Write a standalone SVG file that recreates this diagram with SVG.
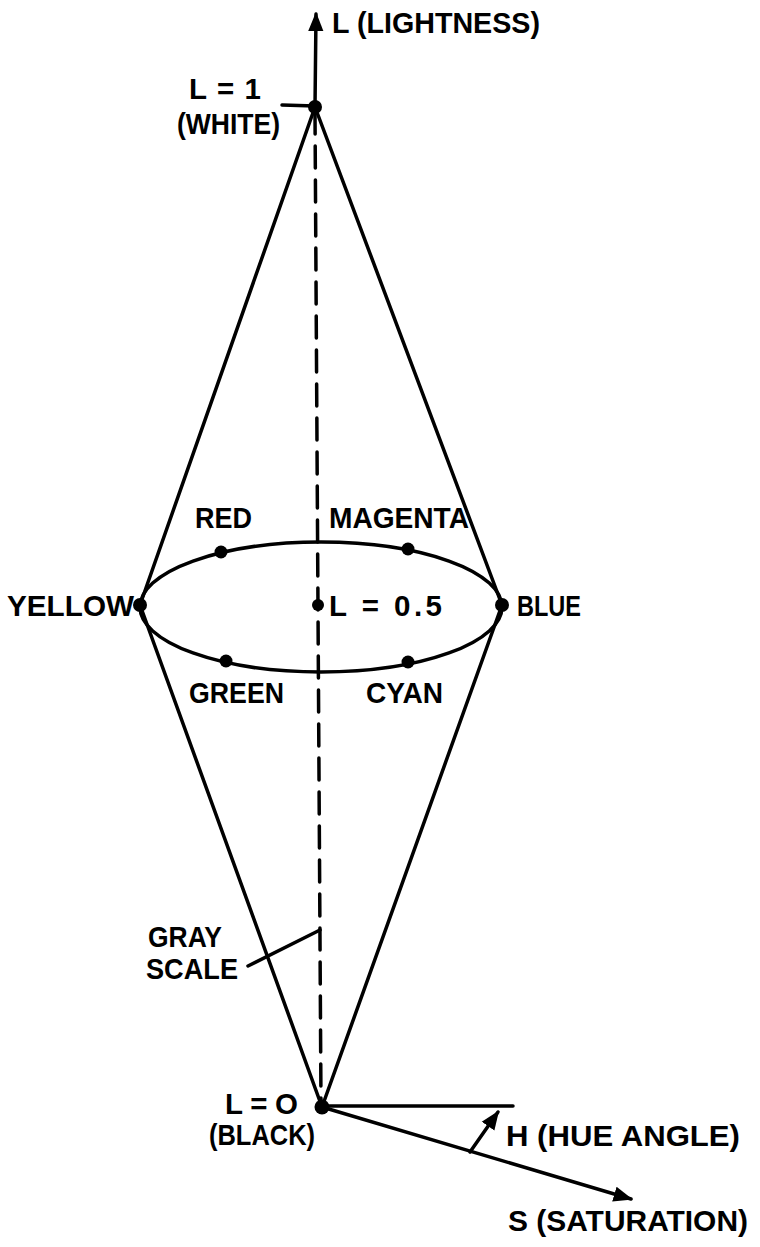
<svg xmlns="http://www.w3.org/2000/svg" width="760" height="1247" viewBox="0 0 760 1247">
<style>
text{font-family:"Liberation Sans",Arial,sans-serif;font-weight:bold;font-size:29.5px;fill:#000}
.ln{stroke:#000;stroke-width:3.5;fill:none;stroke-linecap:round}
.dot{fill:#000}
</style>
<defs>
<marker id="ah" viewBox="0 0 10 10" refX="9" refY="5" markerWidth="5.5" markerHeight="5.5" markerUnits="strokeWidth" orient="auto">
<path d="M0,1 L10,5 L0,9 Z" fill="#000"/>
</marker>
</defs>
<rect width="760" height="1247" fill="#fff"/>
<g id="connectors">
<line class="ln" x1="315" y1="107" x2="316" y2="14" marker-end="url(#ah)"/>
<line class="ln" x1="282" y1="105" x2="315" y2="106"/>
<line class="ln" x1="315" y1="107" x2="140" y2="605"/>
<line class="ln" x1="315" y1="107" x2="502" y2="605"/>
<line class="ln" x1="140" y1="605" x2="322" y2="1107"/>
<line class="ln" x1="502" y1="605" x2="322" y2="1107"/>
<line class="ln" x1="315" y1="112" x2="321" y2="1105" stroke-dasharray="22 12" stroke-linecap="butt"/>
<ellipse class="ln" cx="321" cy="607" rx="181" ry="65"/>
<line class="ln" x1="320" y1="930" x2="248" y2="966"/>
<line class="ln" x1="322" y1="1106" x2="513" y2="1106"/>
<line class="ln" x1="322" y1="1107" x2="631" y2="1199" marker-end="url(#ah)"/>
<line class="ln" x1="470" y1="1152" x2="498" y2="1112" marker-end="url(#ah)"/>
</g>
<g id="node-white"><circle class="dot" cx="315" cy="107" r="7"/><text x="189" y="99" textLength="72" lengthAdjust="spacing">L = 1</text><text x="177" y="134" textLength="103" lengthAdjust="spacingAndGlyphs">(WHITE)</text></g>
<g id="axis-l"><text x="332" y="33" textLength="208" lengthAdjust="spacingAndGlyphs">L (LIGHTNESS)</text></g>
<g id="node-yellow"><circle class="dot" cx="140" cy="605" r="7"/><text x="7" y="616" textLength="127" lengthAdjust="spacingAndGlyphs">YELLOW</text></g>
<g id="node-blue"><circle class="dot" cx="502" cy="605" r="7"/><text x="517" y="616" textLength="64" lengthAdjust="spacingAndGlyphs">BLUE</text></g>
<g id="node-center"><circle class="dot" cx="318" cy="605" r="6"/><text x="329" y="616" textLength="113" lengthAdjust="spacing">L = 0.5</text></g>
<g id="node-red"><circle class="dot" cx="221" cy="552" r="6.5"/><text x="195" y="528" textLength="57" lengthAdjust="spacingAndGlyphs">RED</text></g>
<g id="node-magenta"><circle class="dot" cx="408" cy="549" r="6.5"/><text x="329" y="528" textLength="140" lengthAdjust="spacingAndGlyphs">MAGENTA</text></g>
<g id="node-green"><circle class="dot" cx="226" cy="661" r="6.5"/><text x="189" y="703" textLength="95" lengthAdjust="spacingAndGlyphs">GREEN</text></g>
<g id="node-cyan"><circle class="dot" cx="408" cy="662" r="6.5"/><text x="366" y="703" textLength="77" lengthAdjust="spacingAndGlyphs">CYAN</text></g>
<g id="label-gray"><text x="148" y="947" textLength="74" lengthAdjust="spacingAndGlyphs">GRAY</text><text x="146" y="979" textLength="92" lengthAdjust="spacingAndGlyphs">SCALE</text></g>
<g id="node-black"><circle class="dot" cx="322" cy="1107" r="7.5"/><text x="225" y="1114" textLength="73" lengthAdjust="spacing">L = O</text><text x="209" y="1145" textLength="106" lengthAdjust="spacingAndGlyphs">(BLACK)</text></g>
<g id="label-h"><text x="506" y="1146" textLength="234" lengthAdjust="spacingAndGlyphs">H (HUE ANGLE)</text></g>
<g id="label-s"><text x="508" y="1231" textLength="240" lengthAdjust="spacingAndGlyphs">S (SATURATION)</text></g>
</svg>
